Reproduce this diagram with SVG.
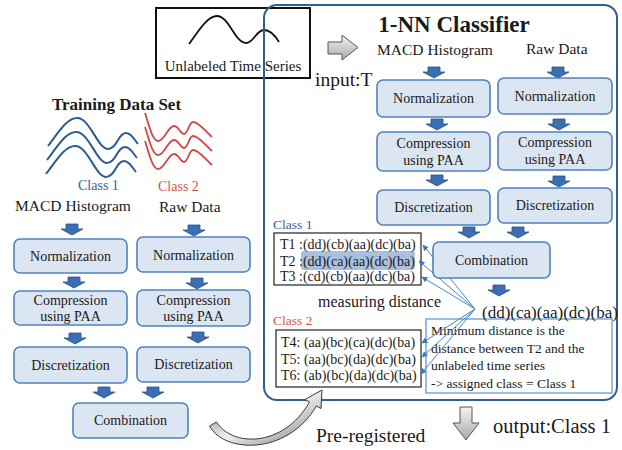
<svg xmlns="http://www.w3.org/2000/svg" width="622" height="450" viewBox="0 0 622 450">
<style>
text{font-family:"Liberation Serif","Times New Roman",serif;fill:#1a1a1a}
.node rect{fill:#dce6f2;stroke:#4f81bd;stroke-width:1.6}
.nt{font-size:14px;text-anchor:middle}
.lbl{font-size:15.5px}
.blu{fill:#3a5f98}
.red{fill:#d9534f}
.list{fill:#fff;stroke:#222;stroke-width:1.2}
.lt{font-size:14px}
.conn line{stroke:#4a86c8;stroke-width:1}
.wb{fill:none;stroke:#2b5d94;stroke-width:2}
.wr{fill:none;stroke:#d64545;stroke-width:1.8}
</style>
<defs>
<path id="da" d="M -6 0 H 6 V 5 H 11 L 0 11 L -11 5 H -6 Z" fill="#3b6fb2" stroke="#2a5288" stroke-width="0.8"/>
<marker id="ah" viewBox="0 0 10 10" refX="9" refY="5" markerWidth="6" markerHeight="6" orient="auto" markerUnits="userSpaceOnUse">
<path d="M0 0 L10 5 L0 10 Z" fill="#3a78c0"/>
</marker>
<linearGradient id="gg" x1="0" y1="0" x2="0" y2="1">
<stop offset="0" stop-color="#f4f4f4"/><stop offset="1" stop-color="#a8a8a8"/>
</linearGradient>
<linearGradient id="gc" x1="0" y1="0" x2="1" y2="1">
<stop offset="0" stop-color="#707070"/><stop offset="0.5" stop-color="#eeeeee"/><stop offset="1" stop-color="#777"/>
</linearGradient>
</defs>

<!-- Unlabeled time series -->
<g id="unlabeled">
<rect x="156" y="8" width="154" height="70" fill="#fff" stroke="#111" stroke-width="2"/>
<path d="M 189 44 C 198 32, 207 16, 217 16 C 229 16, 235 43, 246 43 C 254 43, 256 30, 264 30 C 271 30, 276 37, 279 42" fill="none" stroke="#111" stroke-width="1.8"/>
<text x="233" y="71" text-anchor="middle" style="font-size:15px">Unlabeled Time Series</text>
</g>

<!-- input arrow -->
<g id="input-arrow">
<path d="M 328 42 H 342 V 35 L 358 47.5 L 342 60 V 54 H 328 Z" fill="url(#gg)" stroke="#555" stroke-width="1"/>
<text x="315" y="86" style="font-size:19.5px">input:T</text>
</g>

<!-- classifier container -->
<g id="classifier">
<rect x="264" y="5" width="353" height="395" rx="13" fill="none" stroke="#2f5e92" stroke-width="2"/>
<text x="454" y="32" text-anchor="middle" style="font-size:23px;font-weight:bold">1-NN Classifier</text>
<text x="377" y="55" class="lbl">MACD Histogram</text>
<text x="526" y="54" class="lbl">Raw Data</text>
</g>

<!-- Training data set -->
<g id="training">
<text x="52" y="110" style="font-size:17px;font-weight:bold">Training Data Set</text>
<path class="wb" d="M 48 146 C 60 130, 68 117, 78 118 C 90 119, 98 149, 108 149 C 117 149, 118 133, 126 133 C 131 133, 134 139, 138 144"/>
<path class="wb" transform="translate(-1,14)" d="M 48 146 C 60 130, 68 117, 78 118 C 90 119, 98 149, 108 149 C 117 149, 118 133, 126 133 C 131 133, 134 139, 138 144"/>
<path class="wb" transform="translate(-2,28)" d="M 48 146 C 60 130, 68 117, 78 118 C 90 119, 98 149, 108 149 C 117 149, 118 133, 126 133 C 131 133, 134 139, 138 144"/>
<path class="wr" d="M 145 113 C 149 125, 152 140, 158 141 C 164 142, 168 126, 174 126 C 179 126, 180 134, 184 134 C 188 134, 189 122, 193 122 C 199 122, 206 132, 212 137"/>
<path class="wr" transform="translate(0,14)" d="M 145 113 C 149 125, 152 140, 158 141 C 164 142, 168 126, 174 126 C 179 126, 180 134, 184 134 C 188 134, 189 122, 193 122 C 199 122, 206 132, 212 137"/>
<path class="wr" transform="translate(0,28)" d="M 145 113 C 149 125, 152 140, 158 141 C 164 142, 168 126, 174 126 C 179 126, 180 134, 184 134 C 188 134, 189 122, 193 122 C 199 122, 206 132, 212 137"/>
<text x="78" y="190" class="blu" style="font-size:14px">Class 1</text>
<text x="158" y="191" class="red" style="font-size:14px">Class 2</text>
<text x="15" y="211" class="lbl">MACD Histogram</text>
<text x="159" y="212" class="lbl">Raw Data</text>
</g>

<!-- Class lists -->
<g id="class1-list">
<text x="273" y="229" class="blu" style="font-size:13.5px">Class 1</text>
<rect class="list" x="274" y="233" width="147" height="52"/>
<rect x="301" y="251" width="114" height="19" rx="3" fill="#a9c0de"/>
<text x="280" y="249" class="lt">T1 :(dd)(cb)(aa)(dc)(ba)</text>
<text x="280" y="265.5" class="lt">T2 :(dd)(ca)(aa)(dc)(ba)</text>
<text x="280" y="281" class="lt">T3 :(cd)(cb)(aa)(dc)(ba)</text>
</g>
<text x="318" y="307" style="font-size:16px">measuring distance</text>
<g id="class2-list">
<text x="273" y="325" class="red" style="font-size:13.5px">Class 2</text>
<rect class="list" x="276" y="330" width="145" height="57"/>
<text x="281" y="347" class="lt">T4: (aa)(bc)(ca)(dc)(ba)</text>
<text x="281" y="363.5" class="lt">T5: (aa)(bc)(da)(dc)(ba)</text>
<text x="281" y="380" class="lt">T6: (ab)(bc)(da)(dc)(ba)</text>
</g>

<g id="result">
<rect x="426" y="319" width="186" height="74" fill="#fff" stroke="#5b8fd0" stroke-width="1.2"/>
<text x="431" y="335" style="font-size:13.5px">Minimum distance is the</text>
<text x="431" y="352.5" style="font-size:13.5px">distance between T2 and the</text>
<text x="431" y="370" style="font-size:13.5px">unlabeled time series</text>
<text x="431" y="387.5" style="font-size:13.5px">-&gt; assigned class = Class 1</text>
</g>
<text id="query" x="482" y="318" style="font-size:17px">(dd)(ca)(aa)(dc)(ba)</text>

<!-- connectors -->
<g id="connectors" class="conn">
<line x1="475" y1="309" x2="423" y2="245" marker-end="url(#ah)"/>
<line x1="475" y1="309" x2="419" y2="261" marker-end="url(#ah)"/>
<line x1="475" y1="309" x2="422" y2="277" marker-end="url(#ah)"/>
<line x1="475" y1="309" x2="422" y2="343" marker-end="url(#ah)"/>
<line x1="475" y1="309" x2="422" y2="357" marker-end="url(#ah)"/>
<line x1="475" y1="309" x2="421" y2="374" marker-end="url(#ah)"/>
<use href="#da" x="72" y="224"/>
<use href="#da" x="194" y="225"/>
<use href="#da" x="74" y="277"/>
<use href="#da" x="197" y="278"/>
<use href="#da" x="75" y="333"/>
<use href="#da" x="198" y="332"/>
<use href="#da" x="104" y="387"/>
<use href="#da" x="153" y="387"/>
<use href="#da" x="434" y="67"/>
<use href="#da" x="558" y="67"/>
<use href="#da" x="437" y="119"/>
<use href="#da" x="559" y="119"/>
<use href="#da" x="437" y="175"/>
<use href="#da" x="559" y="176"/>
<use href="#da" x="469" y="227"/>
<use href="#da" x="518" y="227"/>
<use href="#da" x="499" y="285"/>
<path d="M 209.5 426 C 224 453, 287 456, 316.4 406 L 321 408.5 L 322 390 L 305 399.5 L 309.6 402 C 283 448, 232 447, 216.5 422 Z" fill="url(#gc)" stroke="#3a3a3a" stroke-width="1"/>
<path d="M 460 407 H 472 V 423 H 479 L 466 440 L 453 423 H 460 Z" fill="url(#gg)" stroke="#555" stroke-width="1"/>
</g>

<!-- right nodes -->
<g id="r-norm-macd" class="node"><rect x="377" y="80" width="113" height="37" rx="6"/><text class="nt" x="433.5" y="103">Normalization</text></g>
<g id="r-norm-raw" class="node"><rect x="498" y="78" width="114" height="36" rx="6"/><text class="nt" x="555" y="101">Normalization</text></g>
<g id="r-comp-macd" class="node"><rect x="377" y="132" width="113" height="39" rx="6"/><text class="nt" x="433.5" y="148">Compression</text><text class="nt" x="433.5" y="165">using PAA</text></g>
<g id="r-comp-raw" class="node"><rect x="498" y="132" width="114" height="38" rx="6"/><text class="nt" x="555" y="147">Compression</text><text class="nt" x="555" y="164">using PAA</text></g>
<g id="r-disc-macd" class="node"><rect x="377" y="190" width="113" height="35" rx="6"/><text class="nt" x="433.5" y="212">Discretization</text></g>
<g id="r-disc-raw" class="node"><rect x="498" y="188" width="114" height="35" rx="6"/><text class="nt" x="555" y="210">Discretization</text></g>
<g id="r-comb" class="node"><rect x="433" y="242" width="117" height="36" rx="6"/><text class="nt" x="491.5" y="265">Combination</text></g>

<!-- left nodes -->
<g id="l-norm-macd" class="node"><rect x="14" y="239" width="113" height="34" rx="6"/><text class="nt" x="70.5" y="261">Normalization</text></g>
<g id="l-norm-raw" class="node"><rect x="137" y="237" width="113" height="35" rx="6"/><text class="nt" x="193.5" y="260">Normalization</text></g>
<g id="l-comp-macd" class="node"><rect x="14" y="291" width="113" height="34" rx="6"/><text class="nt" x="70.5" y="305">Compression</text><text class="nt" x="70.5" y="321">using PAA</text></g>
<g id="l-comp-raw" class="node"><rect x="137" y="290" width="113" height="36" rx="6"/><text class="nt" x="193.5" y="305">Compression</text><text class="nt" x="193.5" y="321">using PAA</text></g>
<g id="l-disc-macd" class="node"><rect x="14" y="347" width="113" height="36" rx="6"/><text class="nt" x="70.5" y="370">Discretization</text></g>
<g id="l-disc-raw" class="node"><rect x="137" y="347" width="113" height="35" rx="6"/><text class="nt" x="193.5" y="369">Discretization</text></g>
<g id="l-comb" class="node"><rect x="73" y="403" width="115" height="35" rx="6"/><text class="nt" x="130.5" y="425">Combination</text></g>

<text x="316" y="442" style="font-size:19.5px">Pre-registered</text>
<text x="493" y="433" style="font-size:20.5px">output:Class 1</text>
</svg>
